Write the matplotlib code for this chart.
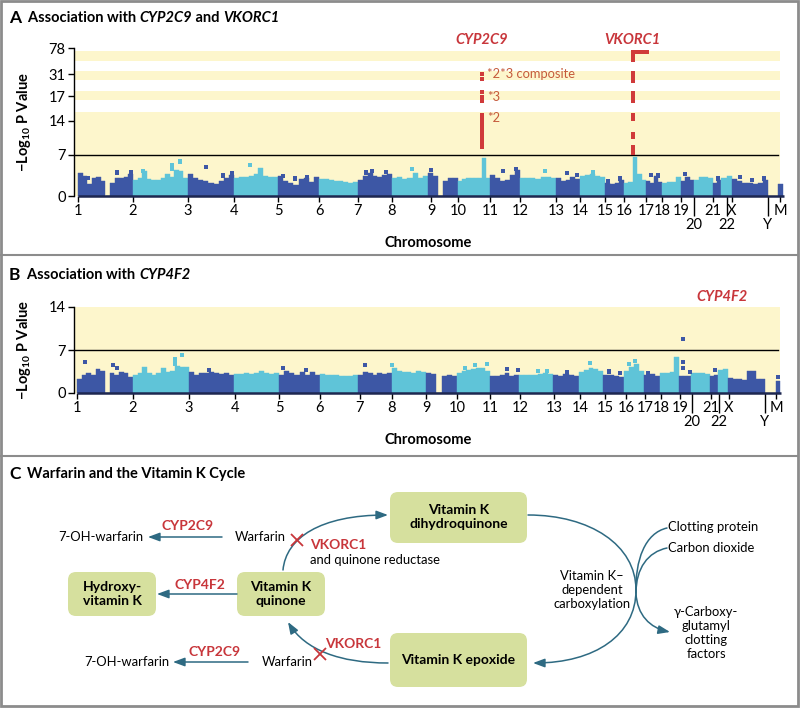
import numpy as np
import matplotlib
matplotlib.use('Agg')
import matplotlib.pyplot as plt
from matplotlib.patches import FancyBboxPatch, FancyArrowPatch, Rectangle
from matplotlib.path import Path

plt.rcParams['font.family'] = ['Lato', 'DejaVu Sans']
plt.rcParams['mathtext.fontset'] = 'custom'
plt.rcParams['mathtext.rm'] = 'Lato'
plt.rcParams['mathtext.bf'] = 'Lato:bold'

DARK = '#3d57a5'
CYAN = '#5fc4d8'
YELLOW = '#fdf6cc'
RED = '#c8363b'
RED_DOT = '#d03a3a'
NOTE = '#c55a3c'
TEAL = '#2e6a82'
BOX = '#d6e09e'
FRAME = '#8c8c8c'

# ---------------- data ----------------
chrom_names = ['1', '2', '3', '4', '5', '6', '7', '8', '9', '10', '11', '12', '13',
               '14', '15', '16', '17', '18', '19', '20', '21', '22', 'X', 'Y', 'M']
long_tick_names = ['20', '22', 'Y']

# chromosome boundaries on the genome axis (panel A / panel B)
a_bounds = [78, 133, 188, 234, 278, 319, 358, 392, 428, 458, 490, 520, 556, 580,
            605, 624, 646, 662, 681, 694, 713, 721, 732, 768, 778, 783]
a_ticks = [78, 133, 188, 234, 278, 319, 358, 392, 431, 458, 490, 520, 556, 580,
           605, 624, 646, 662, 681, 694, 713, 727, 732, 768, 780]
b_bounds = [77, 133, 189, 234, 279, 320, 358, 392, 426, 457, 490, 519, 553, 579,
            603, 624, 644, 660, 679, 691, 710, 718, 728, 765, 776, 780]
b_ticks = [77, 133, 189, 235, 279, 320, 360, 392, 426, 457, 490, 520, 554, 580,
           605, 626, 645, 661, 680, 692, 711, 719, 729, 765, 776]

# binned -log10 P maxima per chromosome (panel A)
a_heights = [
    [4.0, 3.4, 2.0, 3.0, 3.2, 2.5, 0, 2.3, 3.0, 3.1, 3.2, 3.7],
    [2.8, 3.0, 4.3, 2.9, 2.7, 2.8, 3.0, 3.8, 3.3, 4.4, 4.2, 3.0],
    [3.7, 3.0, 2.8, 2.5, 2.3, 2.1, 2.6, 3.1, 3.6],
    [3.0, 3.2, 3.3, 3.4, 3.8, 4.8, 3.4, 3.2, 3.3],
    [3.5, 2.6, 2.2, 1.9, 2.9, 3.0, 2.4, 3.3],
    [2.9, 2.9, 2.8, 2.6, 2.5, 2.4, 2.3, 2.4],
    [2.7, 3.5, 3.9, 3.4, 3.2, 3.6, 3.8],
    [3.0, 3.3, 2.9, 3.0, 4.0, 3.1, 3.5],
    [4.0, 3.5, 0, 2.6, 3.0, 3.0],
    [2.6, 2.9, 3.0, 3.1, 3.0, 3.0, 6.5, 3.0],
    [3.6, 3.0, 2.5, 2.8, 3.6, 4.4],
    [3.0, 3.1, 3.0, 2.9, 3.2, 3.3, 3.0],
    [3.0, 2.6, 2.8, 3.3, 2.9],
    [3.5, 3.6, 3.8, 3.4, 3.3],
    [2.3, 2.1, 2.2, 2.8],
    [2.2, 2.4, 6.6, 3.8, 2.8],
    [2.6, 2.3, 3.5, 2.4],
    [2.3, 2.4, 2.4, 3.3],
    [2.5, 3.3, 2.8],
    [2.8, 3.3, 3.2, 3.0],
    [2.3, 2.8],
    [3.0, 3.4],
    [2.9, 2.5, 2.3, 2.2, 2.1, 2.3, 2.7],
    [],
    [2.0],
]
a_sq_x = [88, 117, 131, 143, 172, 172, 180, 206, 223, 232, 250, 283, 295, 307, 366,
          372, 386, 412, 431, 503, 516, 545, 567, 577, 593, 608, 620, 651, 658, 685,
          718, 740, 752, 764]
a_sq_y = [3.1, 4.0, 4.1, 4.3, 5.3, 4.6, 5.9, 4.9, 3.5, 3.9, 5.3, 3.4, 3.0, 3.2, 4.0,
          4.2, 4.1, 4.6, 4.4, 4.2, 4.6, 4.3, 3.9, 3.6, 4.1, 2.6, 3.0, 3.6, 3.5, 3.8,
          3.0, 3.2, 2.7, 3.0]

cyp2c9_pos = 482
cyp2c9_vals = [8.65, 9.47, 10.3, 11.1, 11.7, 12.6, 13.2, 13.8, 14.36, 14.7,
               16.4, 16.9, 19.5, 27.8, 31.0]
vkorc1_pos = 633
vkorc1_vals = [7.4, 7.9, 8.65, 10.7, 11.3, 14.24, 14.7, 16.4, 16.9, 18.9,
               26.5, 29.1, 32.8, 56.3, 63.5, 70.8]
vkorc1_top_x = [637, 640, 644, 647]
vkorc1_top_val = 70.8
allele_labels = ['*2*3 composite', '*3', '*2']
allele_vals = [31.0, 16.9, 14.36]

# panel B
b_heights = [
    [2.2, 3.0, 3.2, 3.0, 3.9, 3.6, 0, 3.3, 3.0, 3.4, 3.3, 2.6],
    [3.0, 3.3, 4.3, 3.2, 3.0, 3.2, 4.1, 3.4, 3.6, 4.4, 4.3, 4.3],
    [3.5, 3.0, 3.3, 3.2, 3.4, 3.3, 3.1, 3.3, 3.0],
    [3.1, 3.1, 3.2, 3.1, 3.3, 3.6, 3.2, 3.1, 3.2],
    [3.0, 3.6, 3.3, 3.0, 3.4, 2.9, 3.5, 3.0],
    [3.1, 3.0, 3.0, 2.9, 2.8, 2.8, 2.8, 2.9],
    [3.0, 3.4, 3.2, 2.9, 3.3, 3.1, 3.2],
    [4.0, 3.6, 3.4, 3.5, 3.3, 3.6, 3.5],
    [3.3, 3.1, 0, 2.8, 2.9, 2.7],
    [3.2, 3.6, 3.7, 3.9, 4.1, 4.0, 3.6],
    [2.8, 2.7, 2.9, 3.2, 2.8, 3.0],
    [3.0, 3.0, 2.9, 3.0, 3.1, 3.3, 3.1],
    [3.0, 2.8, 3.1, 2.9, 2.8],
    [3.4, 3.8, 4.0, 3.9, 3.6],
    [2.9, 3.0, 2.7, 2.6],
    [3.6, 4.2, 4.7, 3.6],
    [3.0, 3.1, 2.8],
    [3.2, 3.3, 3.5, 5.8],
    [2.8, 2.8, 2.7],
    [3.3, 3.3, 3.2, 3.1],
    [2.8, 2.9],
    [3.8, 3.9],
    [2.4, 2.2, 2.3, 2.1, 3.6, 3.6, 2.2, 2.3],
    [],
    [1.9],
]
b_sq_x = [85, 113, 117, 175, 175, 182, 209, 283, 306, 365, 392, 465, 475, 487, 507,
          518, 538, 547, 567, 590, 609, 620, 629, 635, 648, 683, 683, 690, 715, 778]
b_sq_y = [5.1, 4.5, 4.1, 5.5, 4.8, 6.2, 3.8, 4.1, 3.7, 4.5, 4.6, 4.1, 4.5, 4.7, 3.9,
          3.8, 3.6, 3.6, 3.4, 4.9, 3.5, 3.3, 4.7, 5.2, 3.3, 5.0, 4.1, 3.4, 3.8, 2.6]
cyp4f2_pos = 683
cyp4f2_val = 8.8

threshold = 7

# ---------------- figure ----------------
fig = plt.figure(figsize=(8, 7.08), dpi=100)
ov = fig.add_axes([0, 0, 1, 1])
ov.set_xlim(0, 800)
ov.set_ylim(708, 0)
ov.axis('off')
renderer = fig.canvas.get_renderer()


def rich(x, y, parts, **kw):
    for s, weight, style, size in parts:
        t = ov.text(x, y, s, fontweight=weight, fontstyle=style, fontsize=size,
                    va='center', ha='left', **kw)
        x += t.get_window_extent(renderer).width


def chrom_color(i):
    return DARK if i % 2 == 0 else CYAN


def manhattan(ax, bounds, heights, sq_x, sq_y):
    for i, h in enumerate(heights):
        if not h:
            continue
        lo, hi = bounds[i], bounds[i + 1]
        w = (hi - lo) / len(h)
        lefts = lo + w * np.arange(len(h))
        c = chrom_color(i)
        ax.bar(lefts, h, width=w, align='edge', color=c, edgecolor=c,
               linewidth=0.3, zorder=2)
    idx = np.searchsorted(bounds, sq_x, side='right') - 1
    cols = [chrom_color(i) for i in idx]
    ax.scatter(sq_x, sq_y, s=9, marker='s', c=cols, linewidths=0, zorder=3)
    ax.plot([bounds[0], bounds[-1] + 1], [0, 0], color='#1d2750', lw=1.8,
            solid_capstyle='butt', zorder=4, clip_on=False)


def style_xaxis(ax, ticks, xlabel_y):
    major = [t for t, n in zip(ticks, chrom_names) if n not in long_tick_names]
    major_l = [n for n in chrom_names if n not in long_tick_names]
    minor = [t for t, n in zip(ticks, chrom_names) if n in long_tick_names]
    minor_l = [n for n in chrom_names if n in long_tick_names]
    ax.set_xticks(major)
    ax.set_xticklabels(major_l)
    ax.set_xticks(minor, minor=True)
    ax.set_xticklabels(minor_l, minor=True)
    ax.tick_params(axis='x', which='major', length=4.5, width=1, pad=1.5,
                   labelsize=10.5, color='black')
    ax.tick_params(axis='x', which='minor', length=14.5, width=1, pad=1.5,
                   labelsize=10.5, color='black')
    for s in ['top', 'right', 'bottom']:
        ax.spines[s].set_visible(False)
    ax.spines['left'].set_linewidth(1)
    ax.tick_params(axis='y', length=4.5, width=1, pad=1.5, labelsize=10.5)
    ax.set_xlim(74, 786)
    ax.set_xlabel('Chromosome', fontweight='bold', fontsize=10.5)
    ax.set_ylabel('\u2212Log$_{\\mathbf{10}}$ P Value', fontweight='bold', fontsize=10.5)
    ax.yaxis.set_label_coords(-0.057, 0.5)
    ax.xaxis.set_label_coords((428 - 74) / 712, xlabel_y)
    ax.set_facecolor('none')


# ---------- panel A ----------
axA = fig.add_axes([74 / 800, 1 - 196 / 708, 712 / 800, 148 / 708])
ya_ticks = [0, 7, 14, 17, 31, 78]
ya_pos = [0, 41, 75, 100, 122, 148]
ext_t = [-100] + ya_ticks + [1000]
ext_p = [-100 * 41 / 7] + ya_pos + [148 + (1000 - 78) * 26 / 47]


def fwd(v):
    return np.interp(v, ext_t, ext_p)


def inv(p):
    return np.interp(p, ext_p, ext_t)


axA.set_yscale('function', functions=(fwd, inv))
axA.set_ylim(0, 78)
axA.set_yticks(ya_ticks)
axA.set_yticklabels([str(t) for t in ya_ticks])
axA.yaxis.set_minor_locator(matplotlib.ticker.NullLocator())
bands_a = [(0, 15.1), (16.5, 20.2), (27.2, 36.4), (54.5, 72.6)]
for lo, hi in bands_a:
    axA.fill_between([75, 780], lo, hi, color=YELLOW, lw=0, zorder=0)
axA.plot([74, 778], [threshold, threshold], color='black', lw=1, zorder=1)
manhattan(axA, a_bounds, a_heights, a_sq_x, a_sq_y)
red_sq = dict(s=4.7, marker='s', c=RED_DOT, linewidths=0, zorder=5)
axA.scatter([cyp2c9_pos] * len(cyp2c9_vals), cyp2c9_vals, **red_sq)
axA.scatter([vkorc1_pos] * len(vkorc1_vals), vkorc1_vals, **red_sq)
axA.scatter(vkorc1_top_x, [vkorc1_top_val] * len(vkorc1_top_x), **red_sq)
for lab, v in zip(allele_labels, allele_vals):
    axA.text(cyp2c9_pos + 5, v, lab, color=NOTE, fontsize=9.3, va='center', ha='left')
style_xaxis(axA, a_ticks, -0.27)

# ---------- panel B ----------
axB = fig.add_axes([74 / 800, 1 - 393 / 708, 712 / 800, 86 / 708])
axB.set_ylim(0, 14)
axB.set_yticks([0, 7, 14])
axB.fill_between([75, 780], 0, 14, color=YELLOW, lw=0, zorder=0)
axB.plot([74, 778], [threshold, threshold], color='black', lw=1, zorder=1)
manhattan(axB, b_bounds, b_heights, b_sq_x, b_sq_y)
axB.scatter([cyp4f2_pos], [cyp4f2_val], s=9, marker='s', c=DARK, linewidths=0, zorder=5)
style_xaxis(axB, b_ticks, -0.46)

# ---------- overlay: titles, frame ----------
ov.add_patch(Rectangle((1, 1), 797, 705, fill=False, edgecolor=FRAME, lw=2))
ov.plot([1, 798], [255, 255], color=FRAME, lw=1.5)
ov.plot([1, 798], [456, 456], color=FRAME, lw=1.5)

rich(9, 18, [('A', 'bold', 'normal', 12.5), ('  Association with ', 'bold', 'normal', 10.5),
             ('CYP2C9', 'bold', 'italic', 10.5), (' and ', 'bold', 'normal', 10.5),
             ('VKORC1', 'bold', 'italic', 10.5)])
rich(9, 275, [('B', 'bold', 'normal', 12.5), ('  Association with ', 'bold', 'normal', 10.5),
              ('CYP4F2', 'bold', 'italic', 10.5)])
rich(9, 474, [('C', 'bold', 'normal', 12.5),
              ('  Warfarin and the Vitamin K Cycle', 'bold', 'normal', 10.5)])

ov.text(482, 40, 'CYP2C9', color=RED, fontweight='bold', fontstyle='italic',
        fontsize=10.5, ha='center', va='center')
ov.text(632, 40, 'VKORC1', color=RED, fontweight='bold', fontstyle='italic',
        fontsize=10.5, ha='center', va='center')
ov.text(722, 297, 'CYP4F2', color=RED, fontweight='bold', fontstyle='italic',
        fontsize=10.5, ha='center', va='center')

# ---------- panel C: diagram ----------
boxes = [
    (390, 492, 137, 51, 'Vitamin K\ndihydroquinone'),
    (68, 572, 88, 44, 'Hydroxy-\nvitamin K'),
    (237, 572, 88, 44, 'Vitamin K\nquinone'),
    (390, 633, 137, 54, 'Vitamin K epoxide'),
]
for x, y, w, h, lab in boxes:
    ov.add_patch(FancyBboxPatch((x, y), w, h, boxstyle='round,pad=0,rounding_size=8',
                                facecolor=BOX, edgecolor='none'))
    ov.text(x + w / 2, y + h / 2, lab, ha='center', va='center', fontweight='bold',
            fontsize=10, linespacing=1.2)

arrow_kw = dict(arrowstyle='-|>,head_length=7,head_width=2.6', color=TEAL, lw=1.1,
                mutation_scale=1, shrinkA=0, shrinkB=0)


def curve(pts, codes, arrow=True):
    p = Path(pts, codes)
    if arrow:
        ov.add_patch(FancyArrowPatch(path=p, **arrow_kw))
    else:
        ov.add_patch(FancyArrowPatch(path=p, arrowstyle='-', color=TEAL, lw=1.1,
                                     shrinkA=0, shrinkB=0))


M, C4, L = Path.MOVETO, Path.CURVE4, Path.LINETO
curve([(222, 537), (148, 537)], [M, L])
curve([(237, 594), (157, 594)], [M, L])
curve([(248, 662), (173, 662)], [M, L])
curve([(283, 570), (286, 538), (320, 515), (388, 515)], [M, C4, C4, C4])
curve([(388, 663), (340, 663), (305, 650), (288, 622)], [M, C4, C4, C4])
curve([(528, 515), (590, 515), (636, 545), (636, 590),
       (636, 635), (595, 663), (533, 663)], [M, C4, C4, C4, C4, C4, C4])
curve([(667, 528), (645, 533), (635, 560), (636, 593),
       (637, 615), (650, 628), (670, 632)], [M, C4, C4, C4, C4, C4, C4])
curve([(667, 548), (648, 552), (636, 568), (636, 593)], [M, C4, C4, C4], arrow=False)

for cx, cy in [(297, 540), (320, 654)]:
    ov.plot(cx, cy, marker='x', ms=8, mew=1.3, color=RED)

txt = dict(fontsize=9.4, va='center')
ov.text(58, 537, '7-OH-warfarin', ha='left', **txt)
ov.text(84, 662, '7-OH-warfarin', ha='left', **txt)
ov.text(235, 537, 'Warfarin', ha='left', **txt)
ov.text(262, 662, 'Warfarin', ha='left', **txt)
ov.text(310, 560, 'and quinone reductase', ha='left', **txt)
ov.text(592, 590, 'Vitamin K\u2013\ndependent\ncarboxylation', ha='center',
        linespacing=1.2, **txt)
ov.text(668, 527, 'Clotting protein', ha='left', **txt)
ov.text(668, 548, 'Carbon dioxide', ha='left', **txt)
ov.text(706, 633, '\u03b3-Carboxy-\nglutamyl\nclotting\nfactors', ha='center',
        linespacing=1.2, **txt)

red_kw = dict(color=RED, fontweight='bold', fontsize=10, va='center')
ov.text(188, 526, 'CYP2C9', ha='center', **red_kw)
ov.text(215, 652, 'CYP2C9', ha='center', **red_kw)
ov.text(200, 585, 'CYP4F2', ha='center', **red_kw)
ov.text(310, 545, 'VKORC1', ha='left', **red_kw)
ov.text(325, 644, 'VKORC1', ha='left', **red_kw)

fig.savefig('out.png', dpi=100)
plt.close(fig)
